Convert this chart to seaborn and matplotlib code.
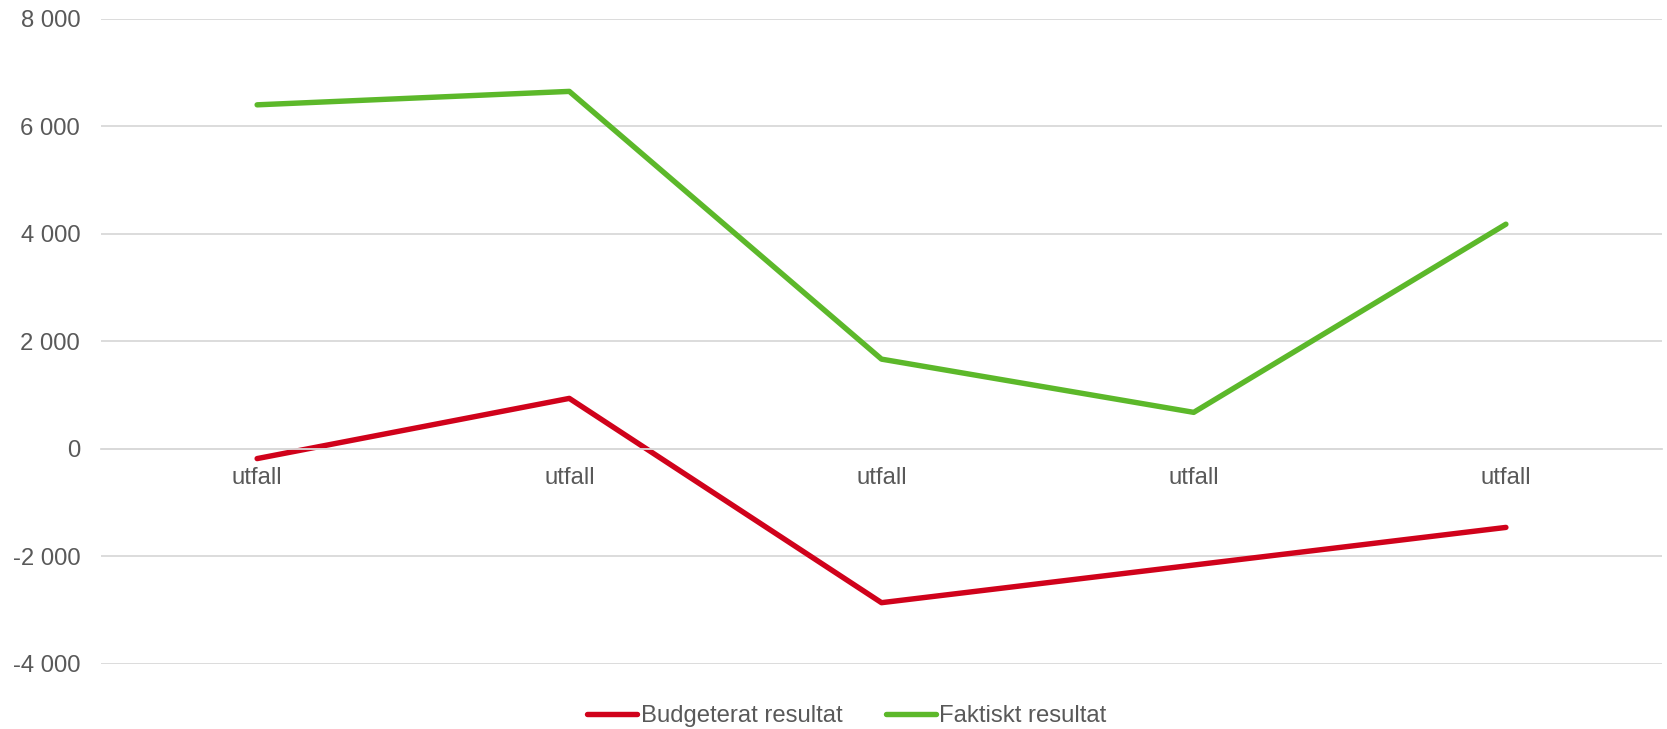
import numpy as np
import pandas as pd
import matplotlib
matplotlib.use("Agg")
import matplotlib.pyplot as plt
import seaborn as sns
from matplotlib.ticker import FuncFormatter
from matplotlib.lines import Line2D

categories = ["utfall", "utfall", "utfall", "utfall", "utfall"]
budgeterat = [-180, 940, -2860, -2160, -1460]
faktiskt = [6400, 6650, 1670, 680, 4180]
series_names = ["Budgeterat resultat", "Faktiskt resultat"]
colors = ["#D0021B", "#5CB82A"]

sns.set_theme(style="white")
plt.rcParams["font.family"] = ["Liberation Sans", "DejaVu Sans"]

pos = np.arange(len(categories))
df = pd.DataFrame({
    "pos": np.concatenate([pos, pos]),
    "value": budgeterat + faktiskt,
    "series": [series_names[0]] * len(pos) + [series_names[1]] * len(pos),
})

fig = plt.figure(figsize=(16.67, 7.29), dpi=100)
ax = fig.add_axes([0.0606, 0.0892, 0.9364, 0.885])

LW = 3.9
sns.lineplot(data=df, x="pos", y="value", hue="series", palette=colors,
             linewidth=LW, ax=ax, legend=False, solid_capstyle="round")

ax.set_xlim(-0.5, len(categories) - 0.5)
ax.set_ylim(-4000, 8000)
ax.set_yticks(np.arange(-4000, 8001, 2000))
ax.yaxis.set_major_formatter(FuncFormatter(lambda v, p: f"{int(v):,}".replace(",", " ")))
ax.grid(axis="y", color="#D9D9D9", linewidth=1.3)
ax.set_axisbelow(True)
for s in ["top", "right", "left"]:
    ax.spines[s].set_visible(False)
ax.spines["bottom"].set_position(("data", 0))
ax.spines["bottom"].set_color("#D9D9D9")
ax.spines["bottom"].set_linewidth(1.3)

FS = 17.2
ax.set_xticks(pos)
ax.set_xticklabels(categories)
ax.tick_params(axis="x", length=0, pad=13, labelsize=FS, labelcolor="#595959")
ax.tick_params(axis="y", length=0, pad=15, labelsize=FS, labelcolor="#595959")
ax.set_xlabel("")
ax.set_ylabel("")

handles = [Line2D([0], [0], color=c, linewidth=LW, solid_capstyle="round") for c in colors]
fig.legend(handles, series_names, loc="center", bbox_to_anchor=(0.508, 0.018),
           ncol=2, frameon=False, fontsize=FS, labelcolor="#595959",
           handlelength=2.1, handletextpad=0.15, columnspacing=1.8)

fig.savefig("out.png", dpi=100)
